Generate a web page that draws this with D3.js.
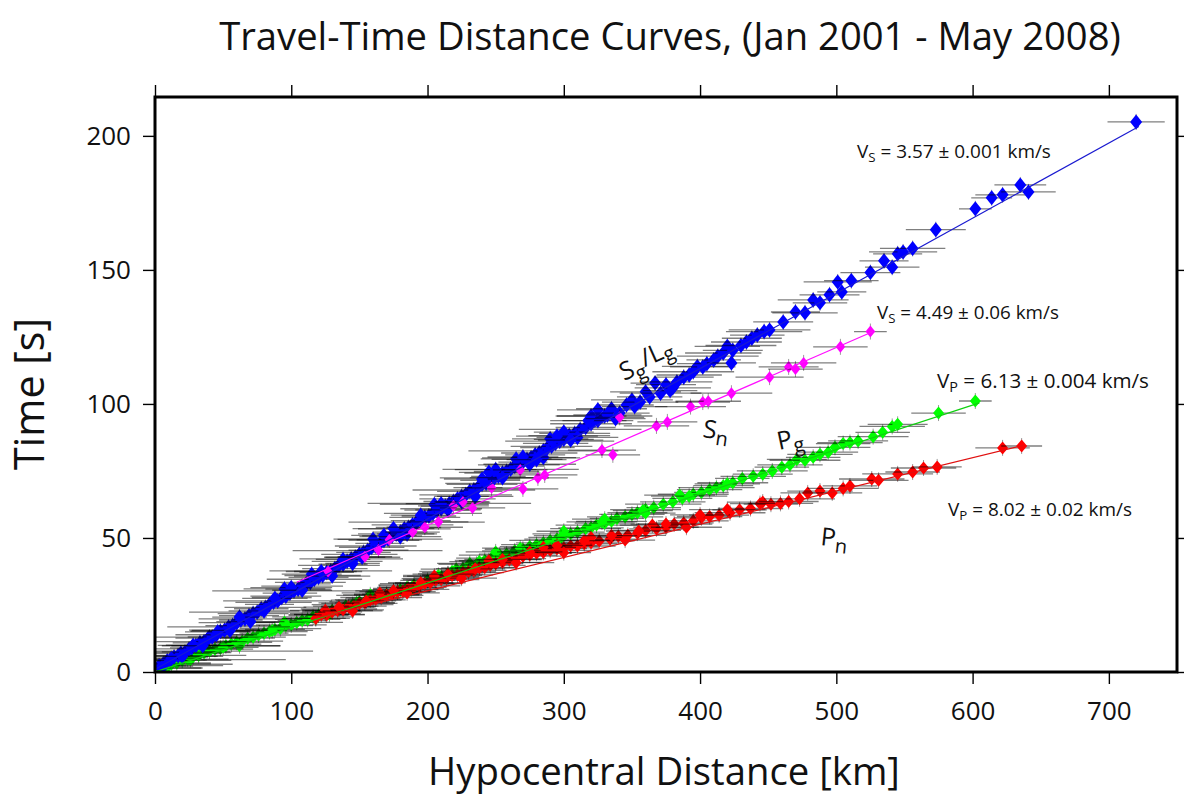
<!DOCTYPE html>
<html>
<head>
<meta charset="utf-8">
<script src="https://cdn.jsdelivr.net/npm/d3@7"></script>
<style>
  html, body { margin: 0; padding: 0; background: #fff; }
  svg { display: block; }
</style>
</head>
<body>
<svg id="chart" width="1184" height="798"></svg>
<script>
// ---------------- DATA ----------------
const titleText = "Travel-Time Distance Curves, (Jan 2001 - May 2008)";
const xLabel = "Hypocentral Distance [km]";
const yLabel = "Time [s]";
const xTicks = [0, 100, 200, 300, 400, 500, 600, 700];
const yTicks = [0, 50, 100, 150, 200];
const xDomain = [0, 750];
const yDomain = [0, 214.5];

// [distance km, time s, distance error km]
const sgLgPoints = [
  [3,2.3,20],[6,3.0,35],[9,4.2,15],[11,4.3,45],[14,5.6,25],[17,6.1,18],[19,7.0,30],[22,7.4,22],[25,8.6,40],[27,9.0,16],
  [30,9.9,28],[33,10.9,20],[36,11.3,35],[39,12.6,24],[40,13.0,40],[42,13.1,18],[45,13.9,30],[48,15.2,22],[51,15.6,26],[54,16.8,45],
  [57,17.3,20],[60,18.4,28],[63,19.4,16],[66,19.8,34],[69,21.0,22],[72,21.8,26],[75,22.3,50],[78,23.6,20],[81,24.1,30],[84,25.2,18],
  [87,26.0,28],[90,26.5,40],[93,27.8,22],[96,28.3,26],[99,29.4,20],[102,30.3,60],[105,30.9,24],[108,32.0,30],[111,32.9,18],[114,33.4,26],
  [117,34.6,35],[120,35.3,22],[123,36.0,28],[126,37.2,20],[129,37.7,45],[132,38.6,24],[135,39.8,30],[138,40.2,18],[141,41.3,26],[144,42.2,38],
  [147,42.8,22],[150,43.9,28],[153,44.6,20],[156,45.3,55],[159,46.5,24],[162,47.0,30],[165,48.0,18],[168,49.1,26],[171,49.6,40],[174,50.8,22],
  [177,51.5,28],[180,52.2,20],[183,53.4,34],[186,53.9,24],[189,54.9,30],[192,55.9,50],[195,56.5,22],[198,57.7,26],[201,58.2,20],[204,59.2,36],
  [207,60.4,24],[210,60.9,30],[213,61.9,18],[216,62.9,60],[219,63.6,22],[222,64.6,28],[225,65.5,20],[228,66.1,34],[231,67.4,24],[234,67.9,45],
  [237,68.8,18],[240,70.0,26],[243,70.4,30],[246,71.5,22],[249,72.4,40],[252,73.0,20],[255,74.2,28],[258,74.8,24],[261,75.6,50],[264,76.8,22],
  [267,77.3,30],[270,78.3,18],[273,79.3,26],[276,79.9,36],[279,81.0,22],[282,81.7,28],[285,82.5,55],[288,83.7,20],[291,84.2,30],[294,85.3,24],
  [297,86.1,40],[300,86.8,22],[304,88.2,30],[308,89.0,26],[312,90.5,45],[316,91.2,22],[320,92.6,30],[325,93.8,26],[330,95.5,35],
  [70,18.8,25],[95,31.0,30],[115,36.5,22],[130,35.8,28],[145,40.5,20],[160,49.5,26],[175,53.5,30],[185,51.5,22],[205,62.5,40],[215,60.5,24],
  [235,65.5,28],[245,74.5,22],[250,75.5,30],[265,79.5,26],[275,77.5,34],[285,80.0,24],[290,87.0,28],[300,89.5,22],[310,87.5,30],[320,95.5,26],
  [5,1.5,30],[12,5.0,22],[20,5.8,26],[28,10.0,20],[35,9.8,30],[46,15.0,24],[55,15.5,28],[62,20.5,20],[80,22.8,26],[88,27.5,24],
  [100,31.5,30],[108,30.5,22],[122,37.5,26],[138,42.0,20],[152,42.8,28],[168,51.0,24],[180,50.5,30],[195,58.5,22],[210,62.8,26],[225,63.5,20],
  [240,72.0,28],[255,72.5,24],[270,80.2,26],[280,79.2,22],[295,88.0,30],[305,86.5,24],[318,93.8,28],
  [325,97.8,30],[332,95.9,25],[335,98.2,26],[338,94.5,22],[341,96.6,22],[346,99.6,20],[350,101.5,30],[352,99.0,24],[356,100.7,28],[360,104.5,26],
  [363,102.6,24],[367,107.8,18],[371,104.0,30],[375,107.2,22],[378,105.0,20],[380,106.0,28],[383,108.2,26],[388,110.0,22],[392,110.8,24],[395,112.0,30],
  [398,114.0,26],[402,113.8,24],[405,115.0,22],[410,116.4,20],[413,117.8,30],[417,119.0,28],[420,121.5,24],[423,115.3,18],[424,120.0,22],[430,121.8,26],
  [434,123.1,26],[438,124.5,22],[442,125.7,20],[447,127.0,28],[451,127.6,30],
  [461,130.6,22],[470,134.3,18],[477,134.0,24],[483,138.8,26],[488,137.7,20],[495,140.7,22],[501,145.5,25],[504,141.8,18],[511,146.0,20],[525,149.0,22],
  [535,153.4,18],[541,151.0,20],[545,156.0,18],[549,156.7,25],[556,158.0,24],[573,165.0,22],[602,172.8,12],[614,176.9,15],[622,178.0,20],[635,181.7,19],
  [641,179.1,20],[720,205.2,21]
];
const snPoints = [
  [127,37.5,25],[154,43.0,20],[164,45.5,22],[172,49.3,24],[189,52.2,20],[198,54.0,28],[208,56.0,22],[219,62.0,26],[226,63.4,20],[233,61.2,24],
  [247,68.7,22],[268,75.4,20],[270,68.3,26],[281,72.4,22],[286,73.5,24],[328,82.8,25],[336,81.0,20],[341,95.0,18],[368,91.8,24],[376,93.3,22],
  [393,99.0,26],[402,100.7,20],[406,101.0,24],[423,104.0,30],[451,110.0,25],[465,113.8,22],[470,113.0,20],[476,115.3,24],[503,121.3,20],[525,127.0,12]
];
const pgPoints = [
  [4,1.5,30],[8,2.2,20],[12,2.9,45],[16,3.4,25],[20,4.4,18],[24,4.8,30],[26,4.6,70],[28,5.8,22],[32,6.2,35],[36,7.2,20],[40,7.8,76],
  [44,8.5,28],[48,8.9,16],[52,9.8,40],[56,10.4,22],[60,11.1,26],[64,11.5,30],[68,12.6,20],[72,13.0,24],[76,13.8,35],[80,14.5,18],
  [84,15.1,28],[88,15.9,22],[92,16.2,30],[96,17.3,20],[100,17.6,26],[104,18.5,34],[108,19.2,18],[112,19.6,24],[116,20.6,30],[120,21.2,22],
  [125,21.8,26],[130,22.9,20],[135,23.5,28],[140,24.6,24],[145,25.1,30],[150,26.2,22],[155,26.8,26],[160,27.6,20],[165,28.6,32],[170,29.0,24],
  [175,30.2,20],[180,30.7,28],[185,31.6,22],[190,32.5,26],[195,33.0,30],[200,34.2,20],[205,34.8,24],[210,35.6,28],[215,36.6,22],[221,38.4,26],
  [226,38.6,20],[231,40.5,24],[236,40.2,28],[242,41.6,22],[247,42.5,26],[253,43.6,30],[258,44.0,20],[264,45.2,24],[270,45.8,28],[275,46.8,22],
  [280,47.5,26],[285,48.2,20],[290,49.1,30],[295,49.6,24],[300,50.9,22],[305,51.5,28],[310,52.2,20],[316,53.5,26],[320,53.8,24],[324,54.8,30],
  [330,55.5,22],[335,56.2,26],[339,57.3,20],[345,57.9,28],[350,58.8,24],[354,59.4,22],[360,60.6,26],[366,61.3,20],[373,62.6,28],[380,63.5,24],
  [387,64.8,22],[395,66.3,26],[401,67.0,20],[407,68.0,24],[412,68.8,28],[417,69.5,22],[424,70.6,26],[431,72.2,20],[439,73.0,24],[446,73.8,22],
  [453,75.0,26],[460,76.4,20],[466,77.3,24],[471,79.3,22],[477,79.0,26],[483,80.1,20],[488,81.2,24],[494,82.0,22],[499,83.8,26],[505,85.2,20],
  [510,85.6,24],[516,86.2,22],[527,87.8,26],[534,89.4,20],[541,91.6,24],[545,92.4,22],[575,96.6,20],[602,101.1,12],
  [30,7.5,25],[62,9.8,30],[95,18.6,22],[128,21.5,26],[158,28.8,20],[188,30.8,28],[218,37.5,24],[250,44.8,22],[282,46.3,26],[300,52.5,20],
  [330,57.0,24],[360,59.3,22],[385,66.0,26],
  [10,2.4,40],[50,9.2,26],[86,15.5,30],[118,20.0,22],[148,25.8,28],[178,29.8,24],[208,36.0,26],[238,41.2,22],[268,46.2,28],[298,50.2,24],
  [328,56.0,26],[358,60.2,22],[392,65.6,28],[420,70.2,24]
];
const pnPoints = [
  [118,20.0,25],[122,21.4,20],[126,21.3,28],[130,22.4,22],[134,22.9,26],[138,23.2,30],[142,24.3,20],[146,24.6,24],[150,25.6,28],[154,25.8,22],
  [158,26.9,26],[162,27.2,20],[166,27.8,30],[170,28.7,24],[174,29.0,22],[178,30.0,28],[182,30.2,20],[186,31.2,26],[190,31.6,24],[194,32.1,30],
  [198,33.0,22],[202,33.3,26],[206,34.3,20],[210,34.5,28],[214,35.1,24],[218,36.0,22],[222,36.2,26],[226,37.1,30],[230,37.4,20],[234,37.9,24],
  [238,38.8,28],[242,39.0,22],[246,39.8,26],[250,40.4,20],[255,40.9,30],[260,41.9,24],[265,42.3,22],[270,43.2,28],[275,43.6,20],[280,44.3,26],
  [285,44.6,24],[290,45.4,30],[295,46.0,22],[300,46.3,26],[305,47.0,20],[310,47.0,28],[315,47.8,24],[320,48.2,22],[326,48.9,26],[334,49.6,20],
  [340,50.6,24],[347,51.0,28],[354,51.8,22],[360,52.8,26],[368,53.4,20],[375,54.0,24],[381,55.2,28],[388,55.6,22],[395,56.4,26],[401,57.5,20],
  [407,58.0,24],[414,58.5,22],[422,59.4,26],[429,60.5,20],[437,61.0,24],[444,62.8,22],[446,63.4,26],[452,62.6,20],[459,62.9,24],[465,63.6,22],
  [473,64.6,26],[479,66.8,20],[488,67.5,24],[497,66.8,22],[505,68.5,26],[510,69.4,20],[526,72.0,24],[531,71.5,22],[545,73.9,26],[556,74.6,20],
  [564,76.1,24],[574,76.5,18],[622,83.6,20],[636,84.3,15],
  [125,23.0,26],[145,22.8,22],[165,29.5,28],[185,29.5,24],[205,35.8,20],[225,35.0,26],[245,41.5,22],[265,40.8,28],[285,46.5,24],[300,44.5,20],
  [320,50.2,26],[345,49.2,22],[365,54.8,24],[390,54.0,26],
  [135,24.2,26],[155,26.5,22],[175,30.3,28],[195,33.3,24],[215,36.5,26],[235,38.5,22],[255,42.0,28],[275,44.8,24],[295,47.2,26],[315,49.0,22],
  [335,50.9,28],[355,52.6,24],[375,55.2,26],[400,58.6,22],[420,60.6,28]
];

// fitted lines: [start, end] as [distance, time]
const sgLgFit = [[0, 1.0], [722, 203.5]];
const snFit = [[104, 33.5], [527, 127.0]];
const pgFit = [[0, 0.0], [605, 100.4]];
const pnFit = [[117, 20.0], [637, 84.5]];

// velocity annotations
const velLabels = [
  {sym: "V", sub: "S", rest: " = 3.57 \u00B1 0.001 km/s"},
  {sym: "V", sub: "S", rest: " = 4.49 \u00B1 0.06 km/s"},
  {sym: "V", sub: "P", rest: " = 6.13 \u00B1 0.004 km/s"},
  {sym: "V", sub: "P", rest: " = 8.02 \u00B1 0.02 km/s"}
];

// ---------------- DRAWING ----------------
const FONT = "'Open Sans', 'Noto Sans', sans-serif";
const svg = d3.select("#chart");
const L = 155, R = 1177, T = 97, B = 672;
const x = d3.scaleLinear().domain(xDomain).range([L, R]);
const y = d3.scaleLinear().domain(yDomain).range([B, T]);

function fitWidth(sel, target) {
  const len = sel.node().getComputedTextLength();
  const fs = parseFloat(sel.attr("font-size"));
  sel.attr("font-size", fs * target / len);
}

svg.append("defs").append("clipPath").attr("id", "clip")
  .append("rect").attr("x", L).attr("y", T).attr("width", R - L).attr("height", B - T);

const plot = svg.append("g").attr("clip-path", "url(#clip)");

function drawSeries(data, color, w, h) {
  const g = plot.append("g");
  const pts = g.selectAll("g.pt").data(data).join("g").attr("class", "pt");
  pts.append("line")
    .attr("x1", d => x(d[0] - d[2])).attr("x2", d => x(d[0] + d[2]))
    .attr("y1", d => y(d[1])).attr("y2", d => y(d[1]))
    .attr("stroke", "#000").attr("stroke-opacity", 0.5).attr("stroke-width", 1.3);
  pts.append("line")
    .attr("x1", d => x(d[0])).attr("x2", d => x(d[0]))
    .attr("y1", d => y(d[1]) - 8).attr("y2", d => y(d[1]) + 8)
    .attr("stroke", "#000").attr("stroke-opacity", 0.4).attr("stroke-width", 1);
  pts.append("path")
    .attr("d", `M0,${-h}L${w},0L0,${h}L${-w},0Z`)
    .attr("transform", d => `translate(${x(d[0])},${y(d[1])})`)
    .attr("fill", color);
}

drawSeries(pgPoints, "#00ff00", 5.5, 6.5);
drawSeries(pnPoints, "#ff0000", 5.5, 6.5);
drawSeries(sgLgPoints, "#0000ff", 6, 7.5);
drawSeries(snPoints, "#ff00ff", 4.8, 6);

const line = d3.line().x(d => x(d[0])).y(d => y(d[1]));
plot.append("path").attr("d", line(pgFit)).attr("stroke", "#10d010").attr("stroke-width", 1.2).attr("fill", "none");
plot.append("path").attr("d", line(pnFit)).attr("stroke", "#e01010").attr("stroke-width", 1.2).attr("fill", "none");
plot.append("path").attr("d", line(sgLgFit)).attr("stroke", "#1a1ad0").attr("stroke-width", 1.2).attr("fill", "none");
plot.append("path").attr("d", line(snFit)).attr("stroke", "#ff10ff").attr("stroke-width", 1.2).attr("fill", "none");

// axes
const tickLen = 12;
const axB = svg.append("g").attr("transform", `translate(0,${B})`)
  .call(d3.axisBottom(x).tickValues(xTicks).tickSize(tickLen).tickPadding(18).tickFormat(d3.format("d")));
const axT = svg.append("g").attr("transform", `translate(0,${T})`)
  .call(d3.axisTop(x).tickValues(xTicks).tickSize(tickLen).tickFormat(""));
const axL = svg.append("g").attr("transform", `translate(${L},0)`)
  .call(d3.axisLeft(y).tickValues(yTicks).tickSize(tickLen).tickPadding(12).tickFormat(d3.format("d")));
const axR = svg.append("g").attr("transform", `translate(${R},0)`)
  .call(d3.axisRight(y).tickValues(yTicks).tickSize(tickLen).tickFormat(""));
[axB, axT, axL, axR].forEach(a => {
  a.select(".domain").remove();
  a.selectAll(".tick line").attr("stroke", "#000").attr("stroke-width", 1.4);
  a.selectAll("text").attr("font-family", FONT).attr("font-size", 26).attr("fill", "#111");
});

svg.append("rect").attr("x", L).attr("y", T).attr("width", R - L).attr("height", B - T)
  .attr("fill", "none").attr("stroke", "#000").attr("stroke-width", 3);

// titles
const title = svg.append("text").attr("x", 670).attr("y", 50).attr("text-anchor", "middle")
  .attr("font-family", FONT).attr("font-size", 32).attr("fill", "#111").text(titleText);
fitWidth(title, 902);

const xl = svg.append("text").attr("x", 664).attr("y", 785).attr("text-anchor", "middle")
  .attr("font-family", FONT).attr("font-size", 32).attr("fill", "#111").text(xLabel);
fitWidth(xl, 472);

const yl = svg.append("text").attr("transform", "translate(44,394) rotate(-90)").attr("text-anchor", "middle")
  .attr("font-family", FONT).attr("font-size", 32).attr("fill", "#111").text(yLabel);
fitWidth(yl, 152);

// velocity annotations
const velPos = [[857, 158, 194], [877, 319, 182], [937, 388, 212], [948, 516, 184]];
velLabels.forEach((v, i) => {
  const t = svg.append("text").attr("x", velPos[i][0]).attr("y", velPos[i][1])
    .attr("font-family", FONT).attr("font-size", 16).attr("fill", "#111");
  t.append("tspan").text(v.sym);
  t.append("tspan").attr("font-size", "70%").attr("dy", 4).text(v.sub);
  t.append("tspan").attr("dy", -4).text(v.rest);
  fitWidth(t, velPos[i][2]);
});

// phase labels
function phase(px, py, rot, main, sub, extra, extraSub) {
  const t = svg.append("text").attr("transform", `translate(${px},${py}) rotate(${rot})`)
    .attr("font-family", FONT).attr("font-size", 25).attr("fill", "#111");
  t.append("tspan").text(main);
  t.append("tspan").attr("font-size", "80%").attr("dy", 6).text(sub);
  if (extra) {
    t.append("tspan").attr("dy", -10).text(extra);
    t.append("tspan").attr("font-size", "80%").attr("dy", 4).text(extraSub);
  }
}
phase(624, 381, -24, "S", "g", "/L", "g");
phase(702, 437, 8, "S", "n");
phase(779, 450, -12, "P", "g");
phase(820, 545, 6, "P", "n");
</script>
</body>
</html>
